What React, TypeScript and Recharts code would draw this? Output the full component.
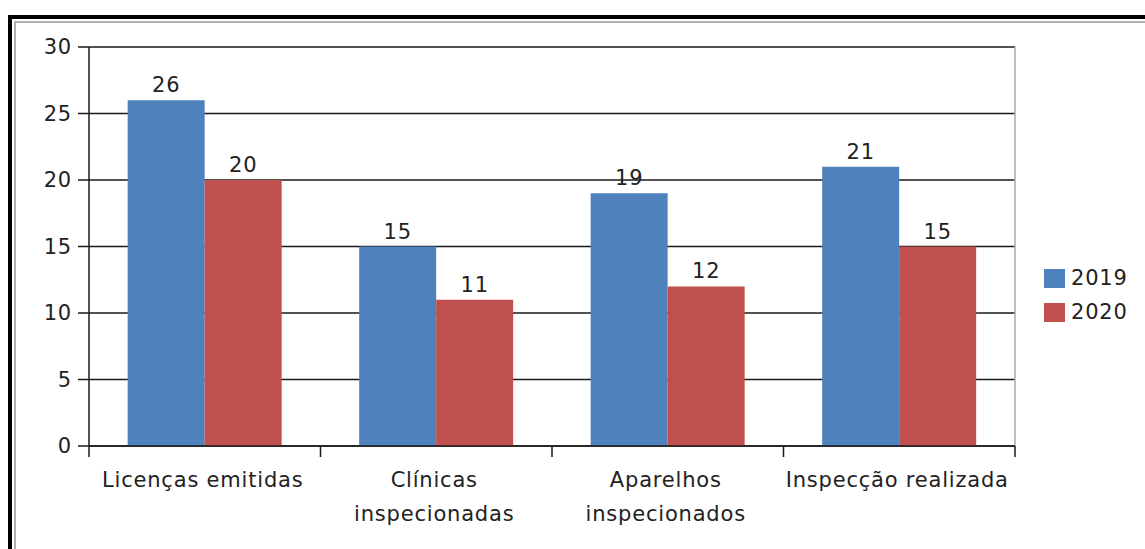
import React from 'react';
import { BarChart, Bar, XAxis, YAxis, CartesianGrid, LabelList, ReferenceLine } from 'recharts';

const categories = ['Licenças emitidas', 'Clínicas\ninspecionadas', 'Aparelhos\ninspecionados', 'Inspecção realizada'];
const values2019 = [26, 15, 19, 21];
const values2020 = [20, 11, 12, 15];
const yTicks = [0, 5, 10, 15, 20, 25, 30];
const seriesKeys = ['v2019', 'v2020'];
const seriesNames = ['2019', '2020'];
const seriesColors = ['#4F81BD', '#C0504D'];

const data = categories.map((c, i) => ({ category: c, v2019: values2019[i], v2020: values2020[i] }));

const FONT = '"DejaVu Sans", sans-serif';
const TEXT = '#222222';
const FS = 21;
const LS = 0.8;
const TICK_SIZE = 11;

const CategoryTick = (props: any) => {
  const { x, y, payload, index } = props;
  const half = payload.offset || 0;
  const axisY = y - TICK_SIZE;
  const lines = String(payload.value).split('\n');
  const isLast = index === categories.length - 1;
  return (
    <g>
      <line x1={x - half} x2={x - half} y1={axisY} y2={axisY + TICK_SIZE} stroke="#1a1a1a" strokeWidth={1.5} />
      {isLast && (
        <line x1={x + half} x2={x + half} y1={axisY} y2={axisY + TICK_SIZE} stroke="#1a1a1a" strokeWidth={1.5} />
      )}
      {lines.map((ln, i) => (
        <text key={i} x={x - 2} y={y + 30 + i * 34} textAnchor="middle" fontSize={FS} fontFamily={FONT} fill={TEXT} letterSpacing={LS}>
          {ln}
        </text>
      ))}
    </g>
  );
};

export default function App() {
  return (
    <div style={{ position: 'absolute', left: 0, top: 0, width: 1145, height: 549, background: '#fff', overflow: 'hidden' }}>
      <div style={{ position: 'absolute', left: 8, top: 15, width: 1200, height: 600, borderLeft: '4px solid #000', borderTop: '4px solid #000' }} />
      <div style={{ position: 'absolute', left: 14, top: 21, width: 1200, height: 600, borderLeft: '2px solid #b0b0b0', borderTop: '2px solid #b0b0b0' }} />
      <div style={{ position: 'absolute', left: 0, top: 0 }}>
        <BarChart
          width={1145}
          height={549}
          data={data}
          margin={{ top: 47, right: 130, left: 0, bottom: 0 }}
          barCategoryGap="16.7%"
          barGap={0}
        >
          <CartesianGrid horizontal vertical={false} stroke="#1a1a1a" strokeWidth={1.5} />
          <ReferenceLine x={categories[categories.length - 1]} position="end" stroke="#a8a8a8" strokeWidth={1.5} />
          <XAxis
            dataKey="category"
            height={103}
            tickLine={false}
            tickSize={TICK_SIZE}
            tickMargin={0}
            interval={0}
            axisLine={{ stroke: '#1a1a1a', strokeWidth: 1.5 }}
            tick={<CategoryTick />}
          />
          <YAxis
            width={89}
            domain={[0, 30]}
            ticks={yTicks}
            interval={0}
            tickSize={TICK_SIZE}
            tickMargin={6}
            axisLine={{ stroke: '#1a1a1a', strokeWidth: 1.5 }}
            tickLine={{ stroke: '#1a1a1a', strokeWidth: 1.5 }}
            tick={{ fontSize: FS, fontFamily: FONT, fill: TEXT, letterSpacing: LS }}
          />
          {seriesKeys.map((k, i) => (
            <Bar key={k} dataKey={k} name={seriesNames[i]} fill={seriesColors[i]} isAnimationActive={false}>
              <LabelList dataKey={k} position="top" offset={8} fontSize={FS} fontFamily={FONT} fill={TEXT} letterSpacing={LS} />
            </Bar>
          ))}
        </BarChart>
      </div>
      <div style={{ position: 'absolute', left: 1044, top: 261, fontFamily: FONT, fontSize: FS, color: TEXT, letterSpacing: LS }}>
        {seriesNames.map((n, i) => (
          <div key={n} style={{ display: 'flex', alignItems: 'center', height: 34 }}>
            <div style={{ width: 21, height: 19, background: seriesColors[i], marginRight: 6 }} />
            <span style={{ lineHeight: '19px' }}>{n}</span>
          </div>
        ))}
      </div>
    </div>
  );
}
